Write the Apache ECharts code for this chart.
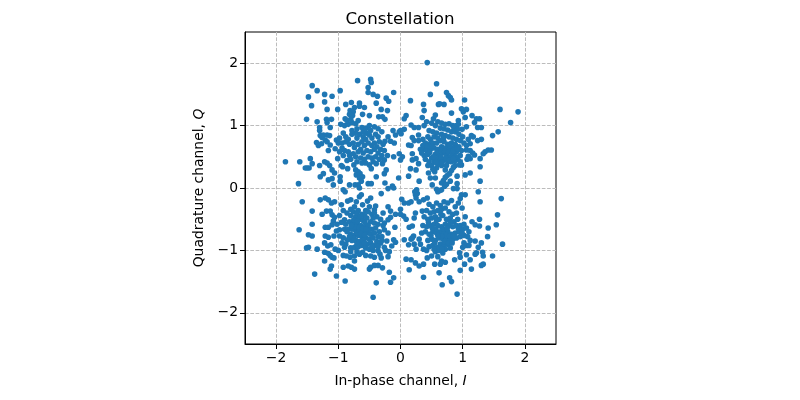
<!DOCTYPE html>
<html><head><meta charset="utf-8">
<script src="https://cdn.jsdelivr.net/npm/echarts@6/dist/echarts.min.js"></script>
<style>html,body{margin:0;background:#fff}#c{width:800px;height:400px}</style></head>
<body><div id="c"></div>
<script>
const tickValues=[-2,-1,0,1,2];
const titleText="Constellation";
const upperLeft=[[-.69,1.72],[-.48,1.74],[-.47,1.69],[-.52,1.61],[-.52,1.53],[-.44,1.50],[-.37,1.47],[-.11,1.53],[-.23,1.44],[-.19,1.39],[-.39,1.36],[-.31,1.26],[-.21,1.24],[-.35,1.14],[-.29,1.14],[-.25,1.10],[-1.42,1.64],[-1.34,1.56],[-1.48,1.46],[-1.22,1.50],[-1.10,1.47],[-.97,1.56],[-1.22,1.38],[-1.43,1.32],[-1.18,1.26],[-1.01,1.26],[-.88,1.34],[-.79,1.37],[-.66,1.36],[-.66,1.31],[-.58,1.29],[-.74,1.29],[-.81,1.24],[-.76,1.22],[-.82,1.18],[-.77,1.16],[-.61,1.18],[-.50,1.16],[-1.51,1.10],[-1.34,1.06],[-1.19,1.10],[-1.11,1.10],[-1.18,1.05],[-.89,1.11],[-1.13,.97],[-1.30,.97],[-1.30,.92],[-1.29,.84],[-1.24,.85],[-1.18,.85],[-1.14,.84],[-1.26,.81],[-1.21,.77],[-1.35,.73],[-1.32,.68],[-1.27,.71],[-1.18,.74],[-1.13,.69],[-1.03,.77],[-1.05,.63],[-1.16,.60],[-1.85,.42],[-1.62,.42],[-1.45,.47],[-1.53,.32],[-1.50,.32],[-1.47,.32],[-1.42,.39],[-1.30,.36],[-1.22,.42],[-1.18,.40],[-1.14,.36],[-1.10,.29],[-1.06,.24],[-1.24,.23],[-1.29,.18],[-1.64,.07],[-1.16,.13],[-1.10,.15],[-.97,.18],[-.97,.11],[-1.08,.05],[-.82,.05],[-.93,.34],[-.85,.31],[-.75,.37],[-1.01,.47],[-.95,.36],[-.72,.29],[-.68,.26],[-.71,.21],[-.65,.23],[-.66,.16],[-.61,.18],[-.63,.11],[-.68,.05],[-.73,.05],[-.52,.07],[-.47,.07],[-.39,.18],[-.26,.23],[-.23,.29],[-.47,.31],[-.50,.37],[-.39,.39],[-.29,.39],[-.26,.45],[-.21,.52],[-.11,.50],[-.02,.55],[-.25,.08],[-.13,.03],[-.03,.16],
[-.96,1.02],[-.90,1.0],[-.84,1.02],[-.78,1.05],[-.72,1.03],[-.68,1.08],[-.86,1.08],[-.8,1.1],[-.62,.97],[-.55,.96],[-.5,1.0],[-.42,.98],[-.36,.95],[-.3,.9],[-.12,.92],[-.08,.85],[-.02,.9],[-.2,.82],[-.16,.75],[-.1,.72],[-.25,.75],[-.92,.88],[-.88,.82],[-.84,.78],[-.98,.8],[-1.0,.72],[-.94,.72],[-.88,.74],[-.82,.7],[-.76,.72],[-.7,.8],[-.66,.86],[-.6,.82],[-.55,.88],[-.5,.85],[-.46,.8],[-.4,.86],[-.36,.82],[-.34,.74],[-.28,.7],[-.72,.88],[-.78,.86],[-.74,.65],[-.68,.7],[-.62,.74],[-.58,.68],[-.52,.72],[-.46,.68],[-.42,.72],[-.38,.66],[-.32,.62],[-.26,.6],[-.64,.62],[-.6,.56],[-.54,.6],[-.48,.58],[-.42,.62],[-.36,.56],[-.3,.52],[-.94,.64],[-.9,.6],[-.84,.58],[-.82,.52],[-.76,.55],[-.72,.5],[-.68,.58],[-.64,.48],[-.58,.46],[-.52,.5],[-.46,.48],[-.4,.5],[-.34,.46],[-.98,.58],[-.92,.52],[-.86,.44],[-.8,.46],[-.7,.42],[-.62,.4],[-.56,.4],[-.44,.42],[-.78,.92],[-.7,.95],[-.6,.9],[-.56,.78],[-.48,.92]];
const upperRight=[[.43,2.01],[.58,1.67],[.48,1.50],[.74,1.53],[.77,1.48],[.80,1.45],[.82,1.41],[.16,1.40],[1.03,1.41],[.37,1.34],[.61,1.34],[.63,1.35],[.70,1.34],[.38,1.24],[.98,1.27],[1.06,1.26],[1.01,1.22],[.82,1.20],[1.60,1.26],[1.89,1.22],[1.77,1.05],[1.57,.90],[1.48,.84],[.09,1.16],[.06,1.11],[.56,1.17],[.53,1.11],[.35,1.13],[.42,1.06],[.38,1.00],[.17,1.01],[.22,.97],[.29,.97],[.06,.94],[0,.92],[.29,.85],[.19,.81],[.22,.76],[.29,.76],[.13,.69],[.17,.68],[.01,.87],[1.15,1.16],[1.22,1.11],[1.27,1.11],[1.19,1.05],[1.24,.97],[1.30,.97],[1.04,1.13],[.93,1.08],[.93,1.02],[.99,.94],[1.06,.98],[1.24,.76],[1.30,.78],[1.14,.84],[1.17,.82],[1.09,.78],[1.12,.71],[1.06,.68],[1.16,.56],[1.19,.53],[1.36,.58],[1.41,.61],[1.46,.61],[1.33,.55],[1.28,.47],[1.28,.34],[1.28,.11],[1.12,.24],[1.04,.21],[.91,.19],[.91,.07],[.30,.11],[.13,.19],[.51,.05],[.16,.31],[.25,.29],[.29,.39],[.19,.45],[.25,.47],[.19,.55],[.03,.50],[0,.45],[.98,.37],[.95,.37],[.88,.36],[.85,.33],[.82,.28],[.79,.23],[.75,.20],[.72,.17],[.69,.12],[.66,.08],[.71,.03],[.74,.06],[.80,.11],[.56,.16],[.48,.16],[.45,.24],[.58,.32],[.55,.26],[.72,.29],[1.07,.46],[1.12,.47],[1.09,.51],[1.06,.61],[1.12,.60],
[.6,1.06],[.66,1.04],[.72,1.02],[.78,1.03],[.84,1.0],[.56,1.0],[.5,1.04],[.64,.96],[.7,.95],[.76,.93],[.82,.9],[.88,.9],[.94,.86],[1.0,.82],[.46,.92],[.52,.9],[.58,.88],[.44,.82],[.48,.78],[.54,.82],[.6,.8],[.66,.86],[.72,.84],[.78,.82],[.84,.8],[.9,.78],[.96,.76],[1.02,.72],[.36,.78],[.4,.72],[.46,.7],[.52,.72],[.58,.72],[.64,.76],[.7,.74],[.76,.7],[.82,.72],[.88,.7],[.94,.66],[.98,.6],[.38,.62],[.42,.6],[.38,.52],[.44,.54],[.48,.62],[.54,.64],[.6,.62],[.66,.66],[.72,.64],[.78,.62],[.84,.64],[.9,.58],[.96,.52],[.4,.46],[.46,.42],[.5,.48],[.56,.54],[.62,.52],[.68,.56],[.74,.54],[.8,.5],[.86,.52],[.92,.46],[.96,.42],[.44,.36],[.5,.36],[.54,.42],[.58,.46],[.64,.44],[.7,.46],[.76,.42],[.82,.42],[.88,.44],[.52,.3],[.6,.38],[.66,.36],[.74,.36],[.36,.68],[.32,.62],[.34,.56],[.9,1.0],[.86,.96],[.92,.94],
[.51,.67],[.43,.67],[.47,.57],[.59,.58],[.65,.6],[.71,.59],[.77,.58],[.83,.56],[.89,.5],[.53,.5],[.65,.49],[.73,.48],[.79,.45],[.85,.47],[.57,.41],[.67,.41],[.79,.68],[.85,.6],[.91,.63],[.69,.79]];
const lowerLeft=[[-1.58,-.22],[-1.29,-.19],[-1.21,-.16],[-1.16,-.19],[-1.11,-.24],[-1.06,-.22],[-1.42,-.37],[-1.42,-.58],[-1.63,-.67],[-1.48,-.75],[-1.42,-.77],[-1.48,-.95],[-1.51,-.96],[-1.34,-.98],[-1.22,-1.17],[-1.11,-1.25],[-1.13,-1.30],[-1.38,-1.38],[-1.03,-1.41],[-.89,-1.49],[-.92,-1.27],[-.84,-1.25],[-.79,-1.27],[-.74,-1.30],[-.50,-1.30],[-.48,-1.27],[-.42,-1.24],[-.36,-1.24],[-.29,-1.28],[-.18,-1.35],[-.11,-1.44],[-.16,-1.51],[-.39,-1.52],[-.44,-1.75],[-.92,-.03],[-.89,-.06],[-.66,0],[-.31,-.09],[-.20,-.01],[-.11,0],[-.95,-.27],[-.85,-.21],[-.80,-.19],[-.71,-.22],[-.61,-.27],[-.53,-.21],[-.48,-.16],[-.63,-.11],[-.66,-.14],[-.40,-.29],[-.42,-.35],[-.28,-.40],[-.20,-.30],[-.16,-.37],[-.08,-.42],[-.16,-.47],[-.20,-.51],[-.26,-.56],[-.09,-.63],[-.26,-.67],[-.20,-.72],[-.11,-.83],[-.08,-.87],[-.14,-.93],[-.26,-.95],[-.36,-1.01],[-.33,-1.06],[-.31,-1.12],[-.42,-1.11],[-.48,-1.09],[-.56,-1.08],[-.61,-1.03],[-.74,-1.17],[-.74,-1.09],[-.81,-1.11],[-.87,-1.09],[-.92,-1.08],[-1.0,-1.0],[-1.05,-.98],[-1.10,-1.11],[-1.07,-1.12],[-1.13,-1.08],[-1.22,-1.03],[-1.16,-1.05],[-1.26,-.42],[-1.19,-.37],[-1.13,-.37],[-1.10,-.43],[-1.06,-.47],[-1.08,-.53],[-1.10,-.59],[-1.02,-.58],[-.95,-.55],[-.90,-.51],[-1.21,-.63],[-1.16,-.63],[-1.03,-.69],[-.98,-.67],[-.90,-.66],[-1.21,-.77],[-1.16,-.79],[-1.07,-.77],[-1.22,-.88],[-1.17,-.93],[-1.12,-.91],[-.92,-.80],[-.85,-.83],[-.90,-.95],[-.80,-.96],[-.74,-.95],
[-.86,-.4],[-.8,-.34],[-.74,-.3],[-.68,-.36],[-.62,-.42],[-.56,-.36],[-.5,-.3],[-.46,-.42],[-.38,-.46],[-.32,-.5],[-.8,-.44],[-.72,-.46],[-.66,-.5],[-.6,-.52],[-.54,-.48],[-.48,-.54],[-.42,-.56],[-.36,-.58],[-.88,-.58],[-.82,-.54],[-.76,-.58],[-.7,-.56],[-.64,-.6],[-.58,-.62],[-.52,-.6],[-.46,-.66],[-.4,-.64],[-.34,-.7],[-.84,-.66],[-.78,-.66],[-.72,-.68],[-.66,-.68],[-.6,-.7],[-.54,-.72],[-.48,-.74],[-.42,-.72],[-.36,-.78],[-.3,-.78],[-.8,-.74],[-.74,-.76],[-.68,-.76],[-.62,-.78],[-.56,-.8],[-.5,-.82],[-.44,-.8],[-.38,-.86],[-.32,-.88],[-.78,-.84],[-.72,-.84],[-.66,-.86],[-.6,-.84],[-.54,-.9],[-.48,-.88],[-.42,-.92],[-.36,-.94],[-.68,-.94],[-.62,-.92],[-.56,-.96],[-.5,-.98],[-.44,-1.0],[-.86,-.7],[-.88,-.9],[-.7,-1.02],[-.66,-1.06],[-.8,-1.02],[-.72,-.62],[-.58,-.44],[-.52,-.38],[-.44,-.48],[-.28,-.6],[-.3,-.84],[-.22,-.85],[-.24,-1.0],[-.18,-1.02],[-.2,-1.1],
[-.92,-.36],[-.98,-.44],[-.76,-.38],[-.7,-.4],[-.64,-.45],[-.75,-.51],[-.69,-.53],[-.57,-.55],[-.51,-.67],[-.67,-.63],[-.61,-.65],[-.55,-.66],[-.79,-.6],[-.7,-.72],[-.64,-.73],[-.58,-.75],[-.76,-.8],[-.82,-.78],[-.7,-.9],[-.58,-.88],[-.46,-.94],[-.94,-.88],[-.98,-.77],[-.42,-.4]];
const lowerRight=[[1.62,-.17],[1.28,-.22],[1.25,-.06],[1.04,-.11],[.98,-.11],[.96,-.17],[.93,-.24],[.99,-.32],[1.56,-.43],[1.54,-.59],[1.41,-.64],[1.27,-.50],[1.27,-.61],[1.20,-.59],[1.15,-.54],[1.04,-.46],[1.40,-.78],[1.64,-.90],[1.48,-1.09],[1.33,-1.09],[1.32,-1.03],[1.30,-.88],[1.25,-.95],[1.20,-.85],[1.22,-1.04],[1.20,-1.06],[1.33,-1.22],[1.30,-1.24],[1.14,-1.30],[1.12,-1.15],[1.06,-1.07],[1.03,-1.22],[.96,-1.32],[.96,-1.11],[.95,-1.04],[.87,-1.15],[.62,-1.36],[.79,-1.44],[.82,-1.50],[.67,-1.55],[.91,-1.70],[.37,-1.43],[.14,-1.31],[.09,-1.14],[.17,-1.15],[.24,-1.20],[.30,-1.25],[.37,-1.22],[.43,-1.12],[.55,-1.22],[.64,-1.22],[.66,-1.17],[.72,-1.19],[.50,-1.09],[.06,-.83],[.13,-.91],[.17,-.82],[.21,-.77],[.19,-.80],[.22,-.90],[.25,-.98],[.30,-.82],[.32,-.90],[.37,-.98],[.42,-1.0],[.06,-.24],[.13,-.24],[.17,-.22],[.24,-.11],[.27,-.09],[.25,-.16],[.30,-.22],[.37,-.19],[.43,-.16],[.60,-.06],[.66,-.03],[.85,-.01],[.91,-.01],[0,-.42],[.05,-.45],[.09,-.50],[.24,-.40],[.22,-.48],[.35,-.37],[.14,-.63],[.19,-.61],[0,-.34],[.02,-.18],[.26,-.03],[.23,-.06],[.58,-.02],[.63,-.04],
[.46,-.26],[.52,-.3],[.58,-.24],[.64,-.28],[.7,-.22],[.76,-.24],[.82,-.2],[.88,-.3],[.42,-.36],[.48,-.4],[.54,-.38],[.6,-.36],[.66,-.34],[.72,-.32],[.78,-.38],[.84,-.42],[.9,-.4],[.38,-.46],[.44,-.5],[.5,-.48],[.56,-.46],[.62,-.5],[.68,-.44],[.74,-.5],[.8,-.48],[.86,-.54],[.92,-.5],[.36,-.6],[.42,-.62],[.48,-.6],[.54,-.58],[.6,-.6],[.66,-.62],[.72,-.58],[.78,-.6],[.84,-.62],[.9,-.6],[.96,-.6],[1.02,-.58],[.34,-.72],[.4,-.7],[.46,-.74],[.52,-.7],[.58,-.72],[.64,-.7],[.7,-.72],[.76,-.7],[.82,-.74],[.88,-.72],[.94,-.7],[1.0,-.66],[1.06,-.64],[1.1,-.7],[.44,-.84],[.5,-.82],[.56,-.84],[.62,-.8],[.68,-.82],[.74,-.8],[.78,-.84],[.84,-.82],[.9,-.8],[.96,-.78],[1.02,-.76],[1.08,-.78],[1.12,-.84],[.46,-.94],[.52,-.92],[.58,-.96],[.64,-.9],[.7,-.92],[.76,-.9],[.56,-1.02],[.62,-1.0],[.68,-1.04],[.6,-1.1],[.54,-.98],[.72,-.98],[.8,-.96],[1.02,-.88],[1.06,-.92],[1.1,-.92],[1.0,-.95],
[.73,-.76],[.79,-.77],[.85,-.77],[.71,-.86],[.77,-.88],[.83,-.88],[.66,-.77],[.6,-.76],[.69,-.66],[.75,-.65],[.55,-.88],[.62,-.95],[.67,-.98],[.57,-.66],[.51,-.64],[.49,-.76],[.45,-.55],[.58,-.52],[.65,-.42],[.8,-.55],[.93,-.65],[.99,-.72]];
const points=[...upperLeft,...upperRight,...lowerLeft,...lowerRight];
const fmt=v=>String(v).replace('-','\u2212');
const italic={fontStyle:'italic',fontSize:13.9,fontFamily:'DejaVu Sans',color:'#000'};
const axisBase=(name)=>({type:'value',min:-2.5,max:2.5,
  name:name,nameLocation:'middle',
  nameTextStyle:{color:'#000',fontSize:13.9,fontFamily:'DejaVu Sans',rich:{i:italic}},
  axisLine:{show:true,onZero:false,lineStyle:{color:'#000',width:1}},
  axisTick:{show:true,length:5,inside:false,lineStyle:{color:'#000',width:1},customValues:tickValues},
  axisLabel:{show:true,color:'#000',fontSize:13.9,fontFamily:'DejaVu Sans',margin:7,customValues:tickValues,formatter:fmt,showMinLabel:true,showMaxLabel:true},
  splitLine:{show:true,lineStyle:{color:'#bcbcbc',width:1,type:[3.7,1.6]}}});
const xAxis=axisBase('In-phase channel, {i|I}');
xAxis.nameGap=30;
const yAxis=axisBase('Quadrature channel, {i|Q}');
yAxis.nameGap=39;
const chart=echarts.init(document.getElementById('c'),null,{renderer:'canvas'});
chart.setOption({animation:false,backgroundColor:'#fff',
  title:{text:titleText,left:'center',top:6,textStyle:{fontSize:16.67,fontWeight:'normal',color:'#000',fontFamily:'DejaVu Sans'}},
  grid:{left:245,top:32,width:311,height:312,containLabel:false,show:true,borderColor:'#000',borderWidth:1,backgroundColor:'transparent'},
  xAxis:xAxis,yAxis:yAxis,
  series:[{type:'scatter',data:points,symbolSize:5.6,itemStyle:{color:'#1f77b4',opacity:1},clip:true,large:false}]});
</script></body></html>
